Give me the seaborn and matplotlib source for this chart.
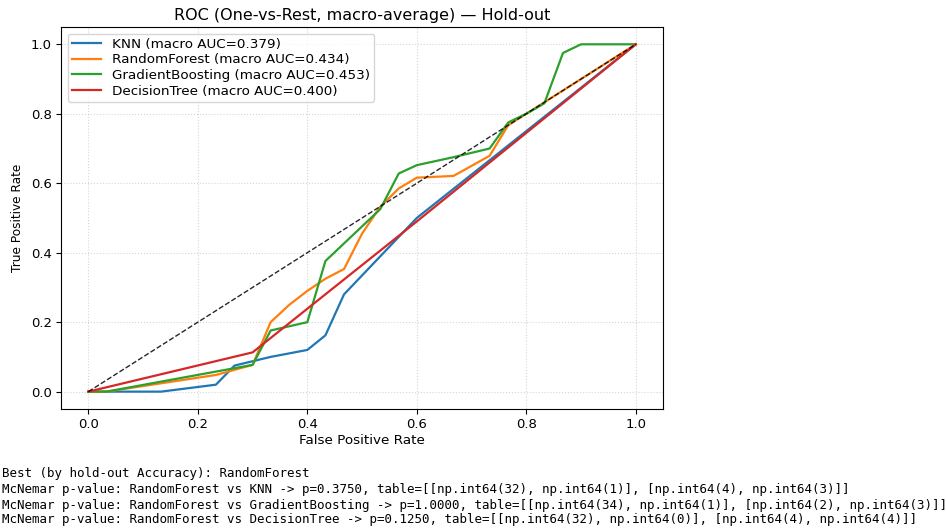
import numpy as np
import pandas as pd
import matplotlib
matplotlib.use("Agg")
import matplotlib.pyplot as plt
import seaborn as sns

# ---- data ----
models = ["KNN", "RandomForest", "GradientBoosting", "DecisionTree"]
aucs = [0.379, 0.434, 0.453, 0.400]

knn_fpr = [0, 0.133, 0.233, 0.267, 0.333, 0.4, 0.433, 0.467, 0.6, 1.0]
knn_tpr = [0, 0, 0.02, 0.075, 0.1, 0.12, 0.162, 0.28, 0.5, 1.0]

rf_fpr = [0, 0.033, 0.233, 0.3, 0.333, 0.367, 0.4, 0.433, 0.467, 0.5, 0.533, 0.567, 0.6, 0.667, 0.733, 0.767, 1.0]
rf_tpr = [0, 0.0, 0.048, 0.077, 0.2, 0.25, 0.29, 0.325, 0.353, 0.455, 0.532, 0.585, 0.616, 0.621, 0.679, 0.767, 1.0]

gb_fpr = [0, 0.033, 0.3, 0.333, 0.4, 0.433, 0.533, 0.567, 0.6, 0.667, 0.733, 0.767, 0.8, 0.833, 0.867, 0.9, 1.0]
gb_tpr = [0, 0, 0.077, 0.176, 0.2, 0.376, 0.525, 0.628, 0.652, 0.675, 0.7, 0.775, 0.8, 0.83, 0.975, 1.0, 1.0]

dt_fpr = [0, 0.3, 0.6, 1.0]
dt_tpr = [0, 0.113, 0.49, 1.0]

colors = ["#1f77b4", "#ff7f0e", "#2ca02c", "#d62728"]

out_lines = [
    "Best (by hold-out Accuracy): RandomForest",
    "McNemar p-value: RandomForest vs KNN -> p=0.3750, table=[[np.int64(32), np.int64(1)], [np.int64(4), np.int64(3)]]",
    "McNemar p-value: RandomForest vs GradientBoosting -> p=1.0000, table=[[np.int64(34), np.int64(1)], [np.int64(2), np.int64(3)]]",
    "McNemar p-value: RandomForest vs DecisionTree -> p=0.1250, table=[[np.int64(32), np.int64(0)], [np.int64(4), np.int64(4)]]",
]

# ---- build long table ----
curves = [(knn_fpr, knn_tpr), (rf_fpr, rf_tpr), (gb_fpr, gb_tpr), (dt_fpr, dt_tpr)]
rows = []
labels = []
for m, a, (fx, ty) in zip(models, aucs, curves):
    lab = f"{m} (macro AUC={a:.3f})"
    labels.append(lab)
    for xv, yv in zip(fx, ty):
        rows.append({"model": lab, "fpr": xv, "tpr": yv})
df = pd.DataFrame(rows)

plt.rcParams["font.family"] = ["DejaVu Sans"]
fig = plt.figure(figsize=(9.46, 5.28), dpi=100)
ax = fig.add_axes([0.0645, 0.2254, 0.701 - 0.0645, 0.949 - 0.2254])

sns.lineplot(data=df, x="fpr", y="tpr", hue="model", hue_order=labels,
             palette=colors, sort=False, estimator=None, units="model",
             linewidth=1.6, ax=ax, legend="full")
ax.plot([0, 1], [0, 1], "k--", lw=1, alpha=0.85)

leg = ax.get_legend()
handles = leg.legend_handles
ltexts = [t.get_text() for t in leg.get_texts()]
leg.remove()
ax.legend(handles, ltexts, loc="upper left", fontsize=9.7,
          labelspacing=0.2, borderpad=0.3, handlelength=2.2)

ax.set_xlim(-0.05, 1.05)
ax.set_ylim(-0.05, 1.05)
ax.set_xticks([0, 0.2, 0.4, 0.6, 0.8, 1.0])
ax.set_yticks([0, 0.2, 0.4, 0.6, 0.8, 1.0])
ax.tick_params(labelsize=9.5, pad=3)
ax.set_xlabel("False Positive Rate", fontsize=9.7, labelpad=2)
ax.set_ylabel("True Positive Rate", fontsize=8.7, labelpad=5)
ax.set_title("ROC (One-vs-Rest, macro-average) — Hold-out", fontsize=11.5, pad=5)
ax.grid(True, linestyle=":", color="#bbbbbb", alpha=0.6, linewidth=0.8)

ys = [474, 490, 505, 520]
for t, yp in zip(out_lines, ys):
    fig.text(0.002, 1 - yp / 528, t, family="DejaVu Sans Mono", fontsize=9,
             va="center", ha="left")

fig.savefig("out.png", dpi=100)
